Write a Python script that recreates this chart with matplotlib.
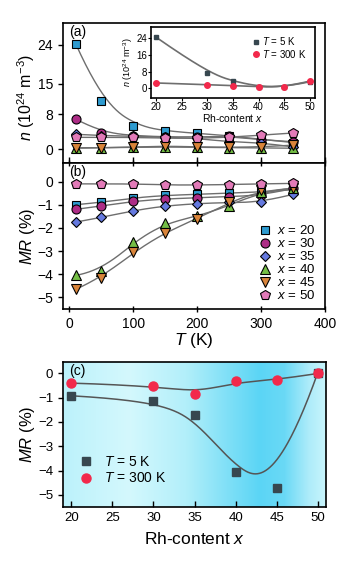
import numpy as np
import matplotlib
matplotlib.use('Agg')
import matplotlib.pyplot as plt
from matplotlib.colors import LinearSegmentedColormap

plt.rcParams['font.family'] = ['Liberation Sans', 'DejaVu Sans']
plt.rcParams['mathtext.fontset'] = 'custom'
plt.rcParams['mathtext.it'] = 'Liberation Sans:italic'
plt.rcParams['mathtext.rm'] = 'Liberation Sans'

# temperatures (K) for panels (a) and (b)
T = [10, 50, 100, 150, 200, 250, 300, 350]
rh = [20, 30, 35, 40, 45, 50]

# carrier density n (10^24 m^-3) vs T, one list per Rh content
n_x20 = [24.2, 11.1, 5.4, 4.2, 3.6, 3.1, 2.2, 1.5]
n_x30 = [6.9, 3.8, 3.1, 2.8, 2.8, 3.0, 2.1, 1.7]
n_x35 = [3.4, 3.1, 3.0, 2.7, 2.5, 1.6, 1.5, 0.5]
n_x40 = [0.3, 0.3, 0.4, 0.5, 0.4, 0.3, 0.3, 0.2]
n_x45 = [0.2, 0.3, 0.5, 0.7, 0.5, 0.4, 0.5, 0.9]
n_x50 = [2.7, 2.7, 2.7, 2.5, 2.5, 2.7, 3.2, 3.7]

# magnetoresistance MR (%) vs T
mr_x20 = [-1.0, -0.9, -0.7, -0.6, -0.55, -0.5, -0.45, -0.35]
mr_x30 = [-1.2, -1.05, -0.85, -0.75, -0.7, -0.65, -0.6, -0.3]
mr_x35 = [-1.75, -1.55, -1.25, -1.05, -0.95, -0.9, -0.9, -0.55]
mr_x40 = [-4.05, -3.85, -2.6, -1.8, -1.5, -1.05, -0.45, -0.28]
mr_x45 = [-4.65, -4.15, -3.05, -2.2, -1.6, -0.9, -0.38, -0.3]
mr_x50 = [-0.1, -0.1, -0.1, -0.15, -0.15, -0.13, -0.1, -0.08]

# inset: n vs Rh content
n_5K = [24.5, 7.4, 3.5, 0.8, 0.6, 3.2]
n_300K = [2.6, 1.8, 1.3, 0.7, 0.6, 3.5]

# panel (c): MR vs Rh content
mr_5K = [-0.92, -1.12, -1.7, -4.07, -4.7, 0.03]
mr_300K = [-0.4, -0.5, -0.85, -0.33, -0.27, 0.0]


def bspline(x, y, num=300, k=3):
    # clamped cubic B-spline using the data points as control points
    P = np.column_stack([x, y]).astype(float)
    n = len(P)
    k = min(k, n - 1)
    knots = np.concatenate([np.zeros(k), np.linspace(0, 1, n - k + 1), np.ones(k)])
    t = np.linspace(0, 1, num)
    m = len(knots) - 1
    N = np.zeros((num, m))
    for j in range(m):
        N[:, j] = (knots[j] <= t) & (t < knots[j + 1])
    N[-1, n - 1] = 1
    for d in range(1, k + 1):
        Nn = np.zeros((num, m - d))
        for j in range(m - d):
            a = knots[j + d] - knots[j]
            b = knots[j + d + 1] - knots[j + 1]
            if a > 0:
                Nn[:, j] += (t - knots[j]) / a * N[:, j]
            if b > 0:
                Nn[:, j] += (knots[j + d + 1] - t) / b * N[:, j + 1]
        N = Nn
    C = N[:, :n] @ P
    return C[:, 0], C[:, 1]


series = [
    (20, n_x20, mr_x20, 's', '#2e9bd0'),
    (30, n_x30, mr_x30, 'o', '#ad2c86'),
    (35, n_x35, mr_x35, 'D', '#6579df'),
    (40, n_x40, mr_x40, '^', '#74be45'),
    (45, n_x45, mr_x45, 'v', '#d9843a'),
    (50, n_x50, mr_x50, 'p', '#e27ab8'),
]
msize = {'s': 6, 'o': 6.5, 'D': 5.5, '^': 6.5, 'v': 6.5, 'p': 7}
line_c = '#6e6e6e'

fig = plt.figure(figsize=(3.58, 5.65), dpi=100)
W, H = 358, 565


def box(l, t, r, b):
    return [l / W, 1 - b / H, (r - l) / W, (b - t) / H]


ax_a = fig.add_axes(box(63, 23, 325, 163))
ax_b = fig.add_axes(box(63, 163, 325, 309), sharex=ax_a)
ax_c = fig.add_axes(box(63, 362, 326, 507))
ax_in = fig.add_axes(box(151, 27, 315, 98))

for xval, nv, mv, mk, col in series:
    xs, ys = bspline(T, nv)
    ax_a.plot(xs, ys, color=line_c, lw=1, zorder=2)
    ax_a.plot(T, nv, ls='none', marker=mk, ms=msize[mk], mfc=col, mec='black', mew=0.8, zorder=3)
    xs, ys = bspline(T, mv)
    ax_b.plot(xs, ys, color=line_c, lw=1, zorder=2)
    ax_b.plot(T, mv, ls='none', marker=mk, ms=msize[mk], mfc=col, mec='black', mew=0.8, zorder=3,
              label=f'$x$ = {xval}')

ax_a.set_xlim(-10, 400)
ax_a.set_ylim(-3.2, 29)
ax_a.set_yticks([0, 8, 15, 24])
ax_a.set_ylabel(r'$n$ (10$^{24}$ m$^{-3}$)', fontsize=11.5)
ax_a.yaxis.set_label_coords(-0.1, 0.47)
ax_a.tick_params(axis='x', direction='in', length=4, labelbottom=False)
ax_a.text(0.025, 0.985, '(a)', transform=ax_a.transAxes, fontsize=10, va='top')

ax_b.set_ylim(-5.5, 0.8)
ax_b.set_xticks([0, 100, 200, 300, 400])
ax_b.set_yticks([0, -1, -2, -3, -4, -5])
ax_b.set_yticklabels(['0', '\u22121', '\u22122', '\u22123', '\u22124', '\u22125'])
ax_b.set_xlabel(r'$T$ (K)', fontsize=12.5, labelpad=0)
ax_b.set_ylabel(r'$MR$ (%)', fontsize=12)
ax_b.yaxis.set_label_coords(-0.1, 0.5)
ax_b.tick_params(axis='x', top=True, direction='inout', length=5)
ax_b.text(0.025, 0.985, '(b)', transform=ax_b.transAxes, fontsize=10, va='top')
ax_b.legend(loc='lower right', frameon=False, fontsize=9.5, handletextpad=0.3,
            labelspacing=0.0, borderaxespad=0.0, handlelength=1.2, bbox_to_anchor=(0.985, 0.01))

for ax in (ax_a, ax_b, ax_c, ax_in):
    for sp in ax.spines.values():
        sp.set_linewidth(1.2)
for ax in (ax_a, ax_b):
    ax.tick_params(labelsize=10, width=1)
ax_c.tick_params(labelsize=9.5, width=1)

# inset
xs, ys = bspline(rh, n_5K)
ax_in.plot(xs, ys, color=line_c, lw=1.2)
xs, ys = bspline(rh, n_300K)
ax_in.plot(xs, ys, color=line_c, lw=1.2)
ax_in.plot(rh, n_5K, ls='none', marker='s', ms=3.5, color='#37474f', label=r'$T$ = 5 K')
ax_in.plot(rh, n_300K, ls='none', marker='o', ms=4, color='#f2294b', label=r'$T$ = 300 K')
ax_in.set_xlim(19, 51)
ax_in.set_ylim(-4.6, 29.4)
ax_in.set_xticks([20, 25, 30, 35, 40, 45, 50])
ax_in.set_yticks([0, 8, 16, 24])
ax_in.tick_params(labelsize=7, length=2, pad=1)
ax_in.set_xlabel(r'Rh-content $x$', fontsize=7.5, labelpad=0)
ax_in.set_ylabel(r'$n$ (10$^{24}$ m$^{-3}$)', fontsize=6.5, labelpad=1)
ax_in.legend(loc='upper right', frameon=False, fontsize=7, handletextpad=0.1,
             labelspacing=0.05, borderaxespad=0.45, handlelength=1.2)

# panel (c)
stops = [(19, '#bcf2fb'), (27, '#d4f8fd'), (34, '#b2effa'), (39, '#80e0f7'),
         (43, '#5bd5f5'), (46, '#6ad9f6'), (49, '#aeecfa'), (51, '#c8f5fc')]
cmap = LinearSegmentedColormap.from_list(
    'bg', [((s - 19) / 32, c) for s, c in stops])
grad = np.linspace(0, 1, 256).reshape(1, -1)
ax_c.imshow(grad, cmap=cmap, aspect='auto', extent=[19, 51, -5.5, 0.47], zorder=0)

xs, ys = bspline(rh, mr_5K)
ax_c.plot(xs, ys, color='#555555', lw=1.1, zorder=2)
xs, ys = bspline(rh, mr_300K)
ax_c.plot(xs, ys, color='#555555', lw=1.1, zorder=2)
ax_c.plot(rh, mr_5K, ls='none', marker='s', ms=5.5, color='#37474f', zorder=3, label=r'$T$ = 5 K')
ax_c.plot(rh, mr_300K, ls='none', marker='o', ms=6.5, color='#f2294b', zorder=3, label=r'$T$ = 300 K')
ax_c.set_xlim(19, 51)
ax_c.set_ylim(-5.5, 0.47)
ax_c.set_xticks([20, 25, 30, 35, 40, 45, 50])
ax_c.set_yticks([0, -1, -2, -3, -4, -5])
ax_c.set_yticklabels(['0', '\u22121', '\u22122', '\u22123', '\u22124', '\u22125'])
ax_c.tick_params(axis='x', direction='in', length=4)
ax_c.set_xlabel(r'Rh-content $x$', fontsize=12.5, labelpad=5)
ax_c.set_ylabel(r'$MR$ (%)', fontsize=12)
ax_c.yaxis.set_label_coords(-0.1, 0.5)
ax_c.text(0.025, 0.985, '(c)', transform=ax_c.transAxes, fontsize=10, va='top')
ax_c.legend(loc='lower left', frameon=False, fontsize=10, handletextpad=0.3,
            labelspacing=0.2, borderaxespad=0.0, bbox_to_anchor=(0.015, 0.11))

fig.savefig('out.png', dpi=100)
